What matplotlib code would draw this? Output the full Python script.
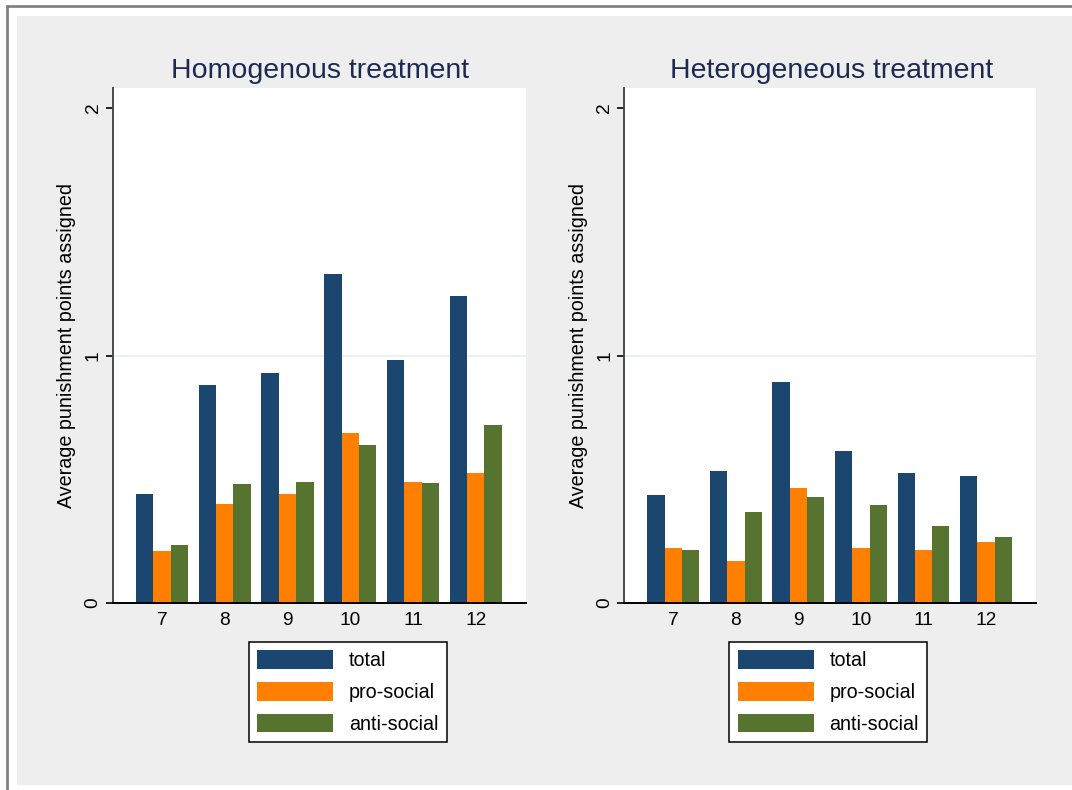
import matplotlib
matplotlib.use('Agg')
import matplotlib.pyplot as plt
import numpy as np
from matplotlib.patches import Rectangle
from matplotlib.lines import Line2D

plt.rcParams['font.family'] = ['Liberation Sans', 'DejaVu Sans']

periods = ['7', '8', '9', '10', '11', '12']
series = ['total', 'pro-social', 'anti-social']
homo_total = [0.44, 0.88, 0.93, 1.33, 0.98, 1.24]
homo_pro = [0.21, 0.40, 0.44, 0.685, 0.49, 0.525]
homo_anti = [0.235, 0.48, 0.49, 0.64, 0.485, 0.72]
het_total = [0.435, 0.535, 0.895, 0.615, 0.525, 0.515]
het_pro = [0.222, 0.17, 0.465, 0.222, 0.213, 0.247]
het_anti = [0.213, 0.368, 0.427, 0.396, 0.311, 0.267]
titles = ['Homogenous treatment', 'Heterogeneous treatment']
ylabel = 'Average punishment points assigned'
yticks = [0, 1, 2]

colors = ['#1b466f', '#ff8000', '#56742f']
title_color = '#1c2a52'

W, H = 1072, 790
fig = plt.figure(figsize=(W / 100, H / 100), dpi=100)
fig.patch.set_facecolor('white')

# background panel and border
fig.add_artist(Rectangle((17 / W, (H - 785) / H), (W - 17) / W, (785 - 16) / H,
                         transform=fig.transFigure, facecolor='#eeeeee',
                         edgecolor='none', zorder=-10))
fig.add_artist(Line2D([7.3 / W, 7.3 / W], [0, 1 - 5 / H], transform=fig.transFigure,
                      color='#808080', lw=1.95, solid_capstyle='butt', zorder=-5))
fig.add_artist(Line2D([6 / W, 1], [1 - 6.3 / H, 1 - 6.3 / H], transform=fig.transFigure,
                      color='#808080', lw=1.95, solid_capstyle='butt', zorder=-5))

panels = [
    (titles[0], homo_total, homo_pro, homo_anti, 112.7, 413.3, 320, 249),
    (titles[1], het_total, het_pro, het_anti, 624.3, 411.7, 831.5, 729.3),
]

x = np.arange(1, len(periods) + 1)
w = 0.277
for title, tot, pro, anti, axl, axw, tcx, legx in panels:
    ax = fig.add_axes([axl / W, (H - 603) / H, axw / W, 515 / H])
    ax.set_facecolor('white')
    b1 = ax.bar(x - w, tot, w, color=colors[0], zorder=3, label=series[0])
    b2 = ax.bar(x, pro, w, color=colors[1], zorder=3, label=series[1])
    b3 = ax.bar(x + w, anti, w, color=colors[2], zorder=3, label=series[2])
    ax.axhline(1, color='#e6eef1', lw=1.2, zorder=1)
    ax.set_xlim(0.214, 6.80)
    ax.set_ylim(0, 2.081)
    ax.set_yticks(yticks)
    ax.set_yticklabels([str(v) for v in yticks])
    ax.set_xticks(x)
    ax.set_xticklabels(periods)
    for s in ['top', 'right']:
        ax.spines[s].set_visible(False)
    ax.spines['left'].set_color('#4a4a4a')
    ax.spines['left'].set_linewidth(1.4)
    ax.spines['bottom'].set_color('black')
    ax.spines['bottom'].set_linewidth(1.4)
    ax.spines['bottom'].set_zorder(4)
    ax.tick_params(axis='x', length=0, pad=6.5, labelsize=13.8)
    ax.tick_params(axis='y', length=5, width=1.2, pad=3, labelsize=13.8,
                   labelrotation=90, color='black')
    for t in ax.get_yticklabels():
        t.set_va('center')
    fig.text((axl - 45.7) / W, (H - 345.5) / H, ylabel, rotation=90,
             ha='center', va='center', fontsize=14.2)
    fig.text(tcx / W, (H - 78.3) / H, title, ha='center', va='baseline',
             fontsize=20.5, color=title_color)
    leg = fig.legend([b1, b2, b3], series, loc='upper left',
                     bbox_to_anchor=(legx / W, 1 - 641.7 / H),
                     bbox_transform=fig.transFigure, frameon=True, fancybox=False,
                     edgecolor='black', framealpha=1, fontsize=14.2,
                     handlelength=3.85, handleheight=1.08, handletextpad=0.8,
                     labelspacing=0.6, borderpad=0.42, borderaxespad=0)
    leg.get_frame().set_linewidth(1.1)

fig.savefig('out.png', dpi=100, facecolor=fig.get_facecolor())
